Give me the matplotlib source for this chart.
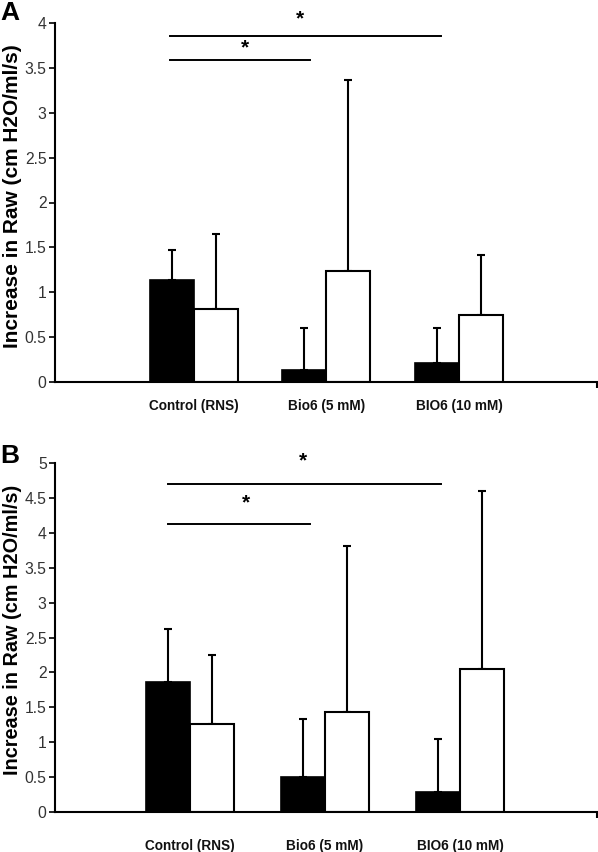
import matplotlib
matplotlib.use("Agg")
import matplotlib.pyplot as plt
import numpy as np

plt.rcParams['font.family'] = ['Liberation Sans', 'DejaVu Sans']

categories = ["Control (RNS)", "Bio6 (5 mM)", "BIO6 (10 mM)"]

# Panel A
a_black = [1.14, 0.13, 0.21]
a_black_err = [0.33, 0.47, 0.39]
a_white = [0.81, 1.24, 0.75]
a_white_err = [0.84, 2.12, 0.66]
a_ticks = [0, 0.5, 1, 1.5, 2, 2.5, 3, 3.5, 4]
a_ticklabels = ["0", "0.5", "1", "1.5", "2", "2.5", "3", "3.5", "4"]

# Panel B
b_black = [1.87, 0.51, 0.29]
b_black_err = [0.75, 0.83, 0.76]
b_white = [1.26, 1.43, 2.05]
b_white_err = [0.99, 2.38, 2.55]
b_ticks = [0, 0.5, 1, 1.5, 2, 2.5, 3, 3.5, 4, 4.5, 5]
b_ticklabels = ["0", "0.5", "1", "1.5", "2", "2.5", "3", "3.5", "4", "4.5", "5"]

W, H = 598, 852
fig = plt.figure(figsize=(W / 100, H / 100), dpi=100)

def make_ax(top_px, bottom_px):
    return fig.add_axes([55 / W, (H - bottom_px) / H, 542 / W, (bottom_px - top_px) / H])

axA = make_ax(23, 382)
axB = make_ax(462.7, 812.3)

def draw(ax, black, berr, white, werr, ticks, ticklabels, ymax, sig, letter,
         xpad, ylab_size, ylab_y, letter_y, c0, s):
    x = np.arange(len(categories))
    bw = 44 / s
    ax.bar(x - bw / 2, black, bw, color='black', edgecolor='black', linewidth=1.2, zorder=2)
    ax.bar(x + bw / 2, white, bw, color='white', edgecolor='black', linewidth=1.5, zorder=2)
    ax.errorbar(x - bw / 2, black, yerr=[np.zeros(len(x)), berr], fmt='none',
                ecolor='black', elinewidth=1.5, capsize=3, capthick=1.5, zorder=1)
    ax.errorbar(x + bw / 2, white, yerr=[np.zeros(len(x)), werr], fmt='none',
                ecolor='black', elinewidth=1.5, capsize=3, capthick=1.5, zorder=1)
    xl = (55 - c0) / s
    xr = (597 - c0) / s
    ax.set_xlim(xl, xr)
    ax.set_ylim(0, ymax)
    ax.set_yticks(ticks)
    ax.set_yticklabels(ticklabels, fontsize=11.3, color='#333333')
    ax.set_xticks(x)
    ax.set_xticklabels(categories, fontsize=9.8, fontweight='bold', color='#111111')
    ax.set_xticks([xr], minor=True)
    ax.tick_params(axis='x', which='major', length=0, pad=xpad)
    ax.tick_params(axis='x', which='minor', length=4, width=1.5, direction='out')
    ax.tick_params(axis='y', length=4.5, width=1.2, direction='out', pad=1.5)
    for sp in ['top', 'right']:
        ax.spines[sp].set_visible(False)
    for sp in ['left', 'bottom']:
        ax.spines[sp].set_linewidth(1.5)
    ax.set_ylabel("Increase in Raw (cm H2O/ml/s)", fontsize=ylab_size, fontweight='bold',
                  va='center', ha='center')
    ax.yaxis.set_label_coords((12 - 55) / 542, ylab_y)
    # significance lines (given in pixel columns, converted to data x)
    for (p0, p1, yl, ys, ps) in sig:
        ax.plot([(p0 - c0) / s, (p1 - c0) / s], [yl, yl], color='black', lw=1.4, clip_on=False)
        ax.text((ps - c0) / s, ys, "*", ha='center', va='center', fontsize=15,
                fontweight='bold', clip_on=False)
    fig.text(0.0, 1 - letter_y / H, letter, fontsize=19, fontweight='bold',
             ha='left', va='center')

draw(axA, a_black, a_black_err, a_white, a_white_err, a_ticks, a_ticklabels, 4,
     [(170, 310, 3.588, 3.72, 245),
      (170, 441, 3.855, 4.05, 300)], "A",
     12, 15, 0.517, 13, 194, 132.5)
draw(axB, b_black, b_black_err, b_white, b_white_err, b_ticks, b_ticklabels, 5,
     [(168, 310, 4.125, 4.42, 246),
      (168, 441, 4.697, 5.02, 303)], "B",
     19, 14.3, 0.521, 456, 190, 135)

fig.savefig("out.png", dpi=100)
